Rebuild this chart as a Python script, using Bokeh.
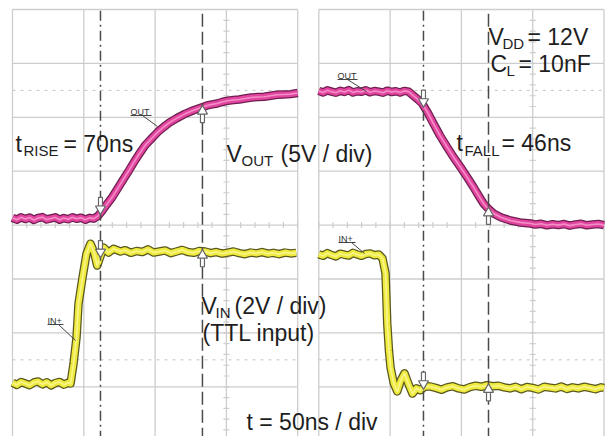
import numpy as np
from bokeh.plotting import figure
from bokeh.models import Range1d, Label
from bokeh.embed import file_html
from bokeh.resources import INLINE

# ---------------- data (read from the scope captures) ----------------
# Left capture: rising edge. Time in ns from the left edge of the capture.
rise_out_t = [0, 3, 6, 9, 12, 15, 18, 21, 24, 27, 30, 33, 36, 39, 42, 45, 48, 51, 54, 57,
              60, 63, 66, 70, 74.5, 78, 81.6, 85, 88.6, 93, 98, 102, 106, 110, 115, 121, 127,
              133, 136.5, 140, 143.5, 147, 151, 155, 159, 163, 167.5, 172, 176.5, 181,
              185.5, 190, 195, 200]
rise_out_v = [0.08, -0.1, 0.12, -0.04, 0.1, -0.12, 0.06, 0.14, -0.08, 0.02, 0.12, -0.1, 0.05,
              -0.06, 0.13, -0.02, 0.09, -0.11, 0.07, 0.0,
              0.25, 0.75, 1.3, 2.0, 2.95, 3.7, 4.45, 5.2, 5.95, 6.8, 7.5, 8.05, 8.5, 8.9, 9.3,
              9.72, 10.05, 10.33, 10.5, 10.6, 10.68, 10.82, 10.94, 11.0, 11.05, 11.14, 11.24,
              11.28, 11.31, 11.4, 11.49, 11.52, 11.55, 11.65]
rise_in_t = [0, 3, 6, 9, 12, 15, 18, 21, 24, 27, 30, 33, 36, 39,
             40.7, 42.8, 44.9, 46.3, 49.1, 51.9, 54.7, 57, 59.4, 61.5, 63.8, 67.3, 70.8, 75.7,
             79, 83, 87, 91, 95, 99, 103, 107, 111, 115, 119, 123, 127, 131, 135, 139, 143,
             147, 151, 155, 159, 163, 167, 171, 175, 179, 183, 187, 191, 195, 199]
rise_in_v = [0.03, -0.05, 0.06, 0.0, -0.06, 0.04, 0.08, -0.03, 0.05, -0.07, 0.02, 0.06, -0.04, 0.03,
             0.0, 0.74, 1.71, 2.97, 3.93, 4.82, 5.19, 4.9, 4.38, 4.7, 5.05, 4.86, 5.0, 4.9,
             4.95, 4.85, 4.92, 4.88, 4.98, 4.86, 4.9, 4.94, 4.84, 4.9, 4.96, 4.88, 4.85, 4.92,
             4.9, 4.84, 4.88, 4.82, 4.86, 4.9, 4.84, 4.8, 4.86, 4.83, 4.88, 4.82, 4.85, 4.8,
             4.86, 4.83, 4.85]

# Right capture: falling edge.
fall_out_t = [0, 3, 6, 9, 12, 15, 18, 21, 24, 27, 30, 33, 36, 39, 42, 45, 48, 51, 54, 57, 60, 63,
              66.4, 69.5, 72.5, 76.5, 80.4, 85, 90, 95, 99.4, 104, 108.5, 112, 115.5, 119, 122.5,
              128, 134.4, 141, 148.5,
              152, 156, 160, 164, 168, 172, 176, 180, 184, 188, 192, 196, 200]
fall_out_v = [12.45, 12.3, 12.5, 12.38, 12.28, 12.46, 12.35, 12.52, 12.3, 12.42, 12.36, 12.5,
              12.32, 12.44, 12.38, 12.28, 12.47, 12.35, 12.42, 12.3, 12.45, 12.38,
              12.0, 11.65, 11.28, 10.4, 9.42, 8.3, 7.23, 6.2, 5.37, 4.45, 3.52, 2.75, 2.0, 1.5,
              1.08, 0.7, 0.43, 0.25, 0.15,
              0.05, 0.12, -0.02, 0.08, 0.0, 0.1, -0.05, 0.06, 0.12, -0.02, 0.05, 0.1, 0.0]
fall_in_t = [0, 3, 6, 9, 12, 15, 18, 21, 24, 27, 30, 33, 36, 39, 42,
             44.7, 46.8, 48.0, 49.2, 50.3, 52.5, 55.0, 57.5, 60.1, 63, 65.7, 68.5, 71.3, 74.5, 78.3,
             82, 86, 90, 94, 98, 102, 106, 110, 114, 118, 122, 126, 130, 134, 138, 142, 146,
             150, 154, 158, 162, 166, 170, 174, 178, 182, 186, 190, 194, 198, 200]
fall_in_v = [4.98, 4.92, 5.02, 4.95, 4.9, 5.0, 4.96, 4.93, 5.03, 4.97, 4.92, 4.99, 5.01, 4.94, 4.97,
             4.82, 4.27, 2.41, 1.4, 0.78, 0.2, -0.11, 0.3, 0.56, 0.15, -0.19, 0.0, -0.07, 0.08, 0.07,
             0.02, -0.05, 0.04, 0.08, 0.0, -0.04, 0.05, 0.1, 0.06, 0.12, 0.08, 0.1, 0.04, 0.0,
             0.06, -0.03, 0.05, 0.02, -0.04, 0.06, 0.03, 0.0, 0.07, -0.02, 0.04, 0.0, 0.06, 0.02,
             -0.03, 0.04, 0.02]

# cursor times (ns): [dash-dot cursor, dashed cursor]
rise_cursors = [61.7, 133.2]
fall_cursors = [73.4, 119.0]

# scope settings
NS_PER_DIV = 50
OUT_V_PER_DIV = 5.0
IN_V_PER_DIV = 2.0
N_HDIV, N_VDIV = 4, 8

# ---------------- layout constants ----------------
PX_NS = 71.3 / NS_PER_DIV     # pixels per ns
PX_DIV = 53.9                 # pixels per vertical division
RIGHT_OFF = 214.8             # ns: where the right capture starts on the shared x scale
GND = {"rise_out": 4.12, "rise_in": 1.06, "fall_out": 4.0, "fall_in": 0.97}


def X2t(X):
    return (X - 12) / PX_NS


def Y2d(Y):
    return N_VDIV - (Y - 9) / PX_DIV


W, H = 609, 436
p = figure(width=W, height=H, output_backend="svg", toolbar_location=None,
           x_range=Range1d(X2t(0), X2t(W)), y_range=Range1d(Y2d(H), Y2d(0)),
           x_axis_type=None, y_axis_type=None, min_border=0)
p.outline_line_color = None
p.background_fill_color = "white"
p.border_fill_color = "white"

GRID = "#cdcdcd"
panel_offsets = [0.0, RIGHT_OFF]
span = NS_PER_DIV * N_HDIV

# graticule
for off in panel_offsets:
    xs = [off + NS_PER_DIV * k for k in range(N_HDIV + 1)]
    p.segment(x0=xs, y0=[0] * len(xs), x1=xs, y1=[N_VDIV] * len(xs), line_color=GRID, line_width=1.3)
    ys = list(range(N_VDIV + 1))
    p.segment(x0=[off] * len(ys), y0=ys, x1=[off + span] * len(ys), y1=ys, line_color=GRID, line_width=1.3)
    # dotted reference levels
    p.segment(x0=[off, off], y0=[1.5, 6.5], x1=[off + span, off + span], y1=[1.5, 6.5],
              line_color="#c4c4c4", line_width=1, line_dash="3 5")
    # minor ticks on the centre lines
    cx = off + 3 * NS_PER_DIV
    ty = np.arange(0, N_VDIV + 0.01, 0.2)
    p.segment(x0=cx - 3 / PX_NS, y0=ty, x1=cx + 3 / PX_NS, y1=ty, line_color=GRID, line_width=1.2)
    tx = np.arange(off, off + span + 0.01, NS_PER_DIV / 5)
    p.segment(x0=tx, y0=4 - 3 / PX_DIV, x1=tx, y1=4 + 3 / PX_DIV, line_color=GRID, line_width=1.2)


def trace(t, v, off, gnd, vpd, edge, core, hi):
    x = np.array(t, dtype=float) + off
    y = gnd + np.array(v, dtype=float) / vpd
    p.line(x, y, line_color=edge, line_width=8.5, line_join="round")
    p.line(x, y, line_color=core, line_width=6, line_join="round")
    p.line(x, y, line_color=hi, line_width=1.6, line_join="round", line_alpha=0.8)


MAG = ("#6e1f4f", "#e2449f", "#f6a3d0")
YEL = ("#5a581c", "#eeea3e", "#fbf7a0")
trace(rise_out_t, rise_out_v, 0.0, GND["rise_out"], OUT_V_PER_DIV, *MAG)
trace(rise_in_t, rise_in_v, 0.0, GND["rise_in"], IN_V_PER_DIV, *YEL)
trace(fall_out_t, fall_out_v, RIGHT_OFF, GND["fall_out"], OUT_V_PER_DIV, *MAG)
trace(fall_in_t, fall_in_v, RIGHT_OFF, GND["fall_in"], IN_V_PER_DIV, *YEL)

# cursors
for off, cur in zip(panel_offsets, [rise_cursors, fall_cursors]):
    p.segment(x0=[off + cur[0]], y0=[0], x1=[off + cur[0]], y1=[N_VDIV],
              line_color="#4a4a4a", line_width=1.5, line_dash="10 4 2 4")
    p.segment(x0=[off + cur[1]], y0=[0], x1=[off + cur[1]], y1=[N_VDIV],
              line_color="#4a4a4a", line_width=1.5, line_dash="13 5")


def arrow(x, y, down):
    """hollow arrow whose tip touches (x, y): head triangle + stem"""
    s = 1 if down else -1          # arrow body lies above the tip for a down arrow
    head_c = y + s * 4 / PX_DIV
    stem_c = y + s * 11 / PX_DIV
    p.rect(x=[x], y=[stem_c], width=4, height=9, width_units="screen", height_units="screen",
           fill_color="white", line_color="#666666", line_width=1.2)
    p.scatter(x=[x], y=[head_c], marker="inverted_triangle" if down else "triangle", size=10,
              fill_color="white", line_color="#666666", line_width=1.2)


# cursor markers at the trace crossings
for off, cur, chans in [
    (0.0, rise_cursors, [(rise_out_t, rise_out_v, GND["rise_out"], OUT_V_PER_DIV),
                         (rise_in_t, rise_in_v, GND["rise_in"], IN_V_PER_DIV)]),
    (RIGHT_OFF, fall_cursors, [(fall_out_t, fall_out_v, GND["fall_out"], OUT_V_PER_DIV),
                               (fall_in_t, fall_in_v, GND["fall_in"], IN_V_PER_DIV)]),
]:
    for t, v, gnd, vpd in chans:
        arrow(off + cur[0], gnd + np.interp(cur[0], t, v) / vpd, True)
        arrow(off + cur[1], gnd + np.interp(cur[1], t, v) / vpd, False)

# channel tags (underlined) with leader lines
tags = [("OUT", 130, 111, [(130, 115, 151, 115), (142, 115, 157, 126)]),
        ("OUT", 337, 75, [(337, 79, 357, 79), (347, 79, 366, 91)]),
        ("IN+", 47, 320, [(47, 324, 63, 324), (58, 324, 75, 340)]),
        ("IN+", 338, 238, [(338, 242, 355, 242), (351, 242, 364, 253)])]
for txt, X, Y, segs in tags:
    p.add_layout(Label(x=X2t(X), y=Y2d(Y), text=txt, text_font="Liberation Sans",
                       text_font_size="9px", text_color="#333333", text_baseline="alphabetic"))
    for (a, b, c, d) in segs:
        p.segment(x0=[X2t(a)], y0=[Y2d(b)], x1=[X2t(c)], y1=[Y2d(d)], line_color="#444444", line_width=1)

BIG, SMALL = "23px", "15px"
texts = [
    ("t", 15, 143, BIG), ("RISE", 23, 150, SMALL), ("= 70ns", 63, 143, BIG),
    ("V", 226, 153, BIG), ("OUT", 241, 160, SMALL), ("(5V / div)", 280, 153, BIG),
    ("V", 488, 36, BIG), ("DD", 502, 43, SMALL), ("= 12V", 527, 36, BIG),
    ("C", 490, 63, BIG), ("L", 506, 70, SMALL), ("= 10nF", 518, 63, BIG),
    ("t", 456, 142, BIG), ("FALL", 464, 150, SMALL), ("= 46ns", 501, 142, BIG),
    ("V", 201, 305, BIG), ("IN", 215, 312, SMALL), ("(2V / div)", 234, 305, BIG),
    ("(TTL input)", 202, 332, BIG),
    ("t = 50ns / div", 246, 421, BIG),
]
for txt, X, Y, size in texts:
    p.add_layout(Label(x=X2t(X), y=Y2d(Y), text=txt, text_font="Liberation Sans",
                       text_font_size=size, text_color="#1e1e1e", text_baseline="alphabetic"))

open("out.html", "w").write(file_html(p, INLINE))
